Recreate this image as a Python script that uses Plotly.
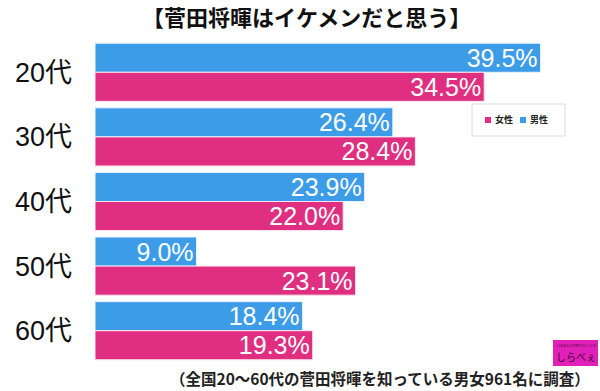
import plotly.graph_objects as go

categories = ["20代", "30代", "40代", "50代", "60代"]
male = [39.5, 26.4, 23.9, 9.0, 18.4]
female = [34.5, 28.4, 22.0, 23.1, 19.3]

BLUE = "#3d9ce8"
PINK = "#e02f80"
FONT = "Liberation Sans, Noto Sans CJK JP"
JFONT = "Noto Sans CJK JP"

W, H = 600, 391
L, R, T, B = 95, 3, 40, 28
PW, PH = W - L - R, H - T - B


def px(x):
    return (x - L) / PW


def py(y):
    return (H - B - y) / PH


fig = go.Figure()
fig.add_trace(go.Bar(
    y=categories, x=male, name="男性", orientation="h",
    marker=dict(color=BLUE, line=dict(color="#eaf4fc", width=1)),
    text=[f"{v:.1f}%" for v in male], textposition="inside", constraintext="none",
    insidetextanchor="end", textfont=dict(color="white", size=25, family=FONT),
))
fig.add_trace(go.Bar(
    y=categories, x=female, name="女性", orientation="h",
    marker=dict(color=PINK, line=dict(color="#fbe6ef", width=1)),
    text=[f"{v:.1f}%" for v in female], textposition="inside", constraintext="none",
    insidetextanchor="end", textfont=dict(color="white", size=25, family=FONT),
))

fig.update_layout(
    width=W, height=H,
    margin=dict(l=L, r=R, t=T, b=B),
    paper_bgcolor="white", plot_bgcolor="white",
    barmode="group", bargap=0.1, bargroupgap=0,
    font=dict(family=FONT, color="#222"),
    showlegend=False,
    uniformtext=dict(minsize=25, mode="show"),
)
fig.update_xaxes(range=[0, 44.5], visible=False)
fig.update_yaxes(
    autorange="reversed", showgrid=False, zeroline=False, showline=False,
    automargin=False,
    tickfont=dict(size=27, color="#111", family=FONT), ticks="", ticklabelstandoff=22,
)

# title
fig.add_annotation(
    text="<b>【菅田将暉はイケメンだと思う】</b>", x=px(306), xref="paper", xanchor="center",
    y=py(16), yref="paper", yanchor="middle", showarrow=False,
    font=dict(size=22, color="#111", family=JFONT),
)
# footer
fig.add_annotation(
    text="<b>（全国20～60代の菅田将暉を知っている男女961名に調査）</b>",
    x=px(592), xref="paper", xanchor="right",
    y=py(378), yref="paper", yanchor="middle", showarrow=False,
    font=dict(size=15.5, color="#222", family=JFONT),
)

# custom legend
fig.add_shape(type="rect", xref="paper", yref="paper",
              x0=px(472), x1=px(565), y0=py(136), y1=py(104),
              fillcolor="white", line=dict(color="#dcdcdc", width=1), layer="above")
for sx, col, name in [(485, PINK, "女性"), (520, BLUE, "男性")]:
    fig.add_shape(type="rect", xref="paper", yref="paper",
                  x0=px(sx), x1=px(sx + 6), y0=py(123), y1=py(117),
                  fillcolor=col, line=dict(width=0), layer="above")
    fig.add_annotation(text=f"<b>{name}</b>", x=px(sx + 8), xref="paper", xanchor="left",
                       y=py(120), yref="paper", yanchor="middle", showarrow=False,
                       font=dict(size=9, color="#222", family=JFONT))

# logo
fig.add_shape(type="rect", xref="paper", yref="paper",
              x0=px(553), x1=px(598), y0=py(366), y1=py(340),
              fillcolor="#e020b8", line=dict(width=0), layer="above")
fig.add_annotation(
    text="しらべぇ", x=px(576), xref="paper", xanchor="center",
    y=py(356), yref="paper", yanchor="middle",
    showarrow=False, font=dict(size=10, color="#3a0a30", family=JFONT),
)
fig.add_annotation(
    text="いまみんなが知りたいことを", x=px(576), xref="paper", xanchor="center",
    y=py(345), yref="paper", yanchor="middle",
    showarrow=False, font=dict(size=3, color="#3a0a30", family=JFONT),
)

fig.write_html("out.html", post_script="document.body.style.margin='0';",
               config={"displayModeBar": False})
